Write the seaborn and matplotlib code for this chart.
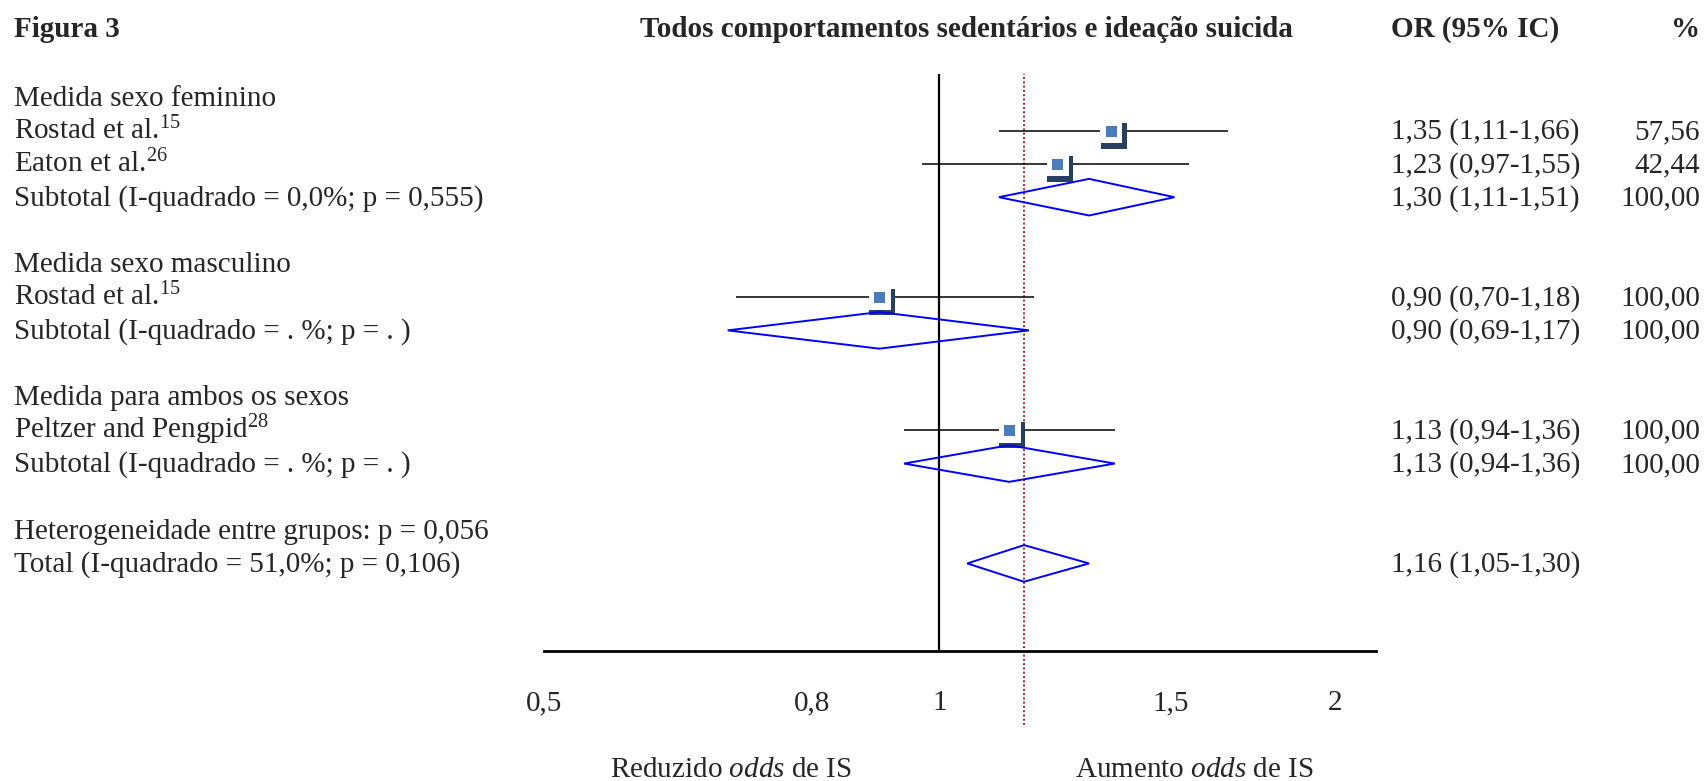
import matplotlib
matplotlib.use("Agg")
import matplotlib.pyplot as plt
import matplotlib.transforms as mtransforms
from matplotlib.patches import Polygon
from matplotlib.ticker import NullLocator, NullFormatter
import seaborn as sns

# table rows (left column), blank strings are spacer rows
labels = [
    "Medida sexo feminino",
    "Rostad et al.$^{15}$",
    "Eaton et al.$^{26}$",
    "Subtotal (I-quadrado = 0,0%; p = 0,555)",
    "",
    "Medida sexo masculino",
    "Rostad et al.$^{15}$",
    "Subtotal (I-quadrado = . %; p = . )",
    "",
    "Medida para ambos os sexos",
    "Peltzer and Pengpid$^{28}$",
    "Subtotal (I-quadrado = . %; p = . )",
    "",
    "Heterogeneidade entre grupos: p = 0,056",
    "Total (I-quadrado = 51,0%; p = 0,106)",
]
or_text = ["", "1,35 (1,11-1,66)", "1,23 (0,97-1,55)", "1,30 (1,11-1,51)", "",
           "", "0,90 (0,70-1,18)", "0,90 (0,69-1,17)", "",
           "", "1,13 (0,94-1,36)", "1,13 (0,94-1,36)", "",
           "", "1,16 (1,05-1,30)"]
weight_text = ["", "57,56", "42,44", "100,00", "",
               "", "100,00", "100,00", "",
               "", "100,00", "100,00", "",
               "", ""]

# individual studies
study_rows = [1, 2, 6, 10]
study_or = [1.35, 1.23, 0.90, 1.13]
study_lo = [1.11, 0.97, 0.70, 0.94]
study_hi = [1.66, 1.55, 1.18, 1.36]

# pooled estimates (diamonds)
pooled_rows = [3, 7, 11, 14]
pooled_or = [1.30, 0.90, 1.13, 1.16]
pooled_lo = [1.11, 0.69, 0.94, 1.05]
pooled_hi = [1.51, 1.17, 1.36, 1.30]

overall_or = 1.16
tick_values = [0.5, 0.8, 1, 1.5, 2]
tick_labels = ["0,5", "0,8", "1", "1,5", "2"]

sns.set_style("white")
plt.rcParams["font.family"] = ["Liberation Serif", "DejaVu Serif"]
plt.rcParams["mathtext.fontset"] = "custom"
plt.rcParams["mathtext.rm"] = "Liberation Serif"
plt.rcParams["mathtext.it"] = "Liberation Serif:italic"
plt.rcParams["mathtext.bf"] = "Liberation Serif:bold"

FS = 21
W, H = 1706, 781
fig = plt.figure(figsize=(W / 100, H / 100), dpi=100)
ax = fig.add_axes([544 / W, 1 - 651 / H, 832 / W, 577 / H])

# reference lines
ax.axvline(1, color="black", lw=1.6, zorder=1)
ax.axvline(overall_or, ymin=-0.128, ymax=1, color="#A52A2A", lw=1.4,
           ls=(0, (1, 1.2)), clip_on=False, zorder=1)

# confidence intervals
ax.hlines(study_rows, study_lo, study_hi, color="black", lw=1.1, zorder=2)

# boxes with the little shadow bracket
shadow = mtransforms.offset_copy(ax.transData, fig=fig, x=3, y=-5, units="dots")
gap = mtransforms.offset_copy(ax.transData, fig=fig, x=0.5, y=-1.5, units="dots")
ax.scatter(study_or, study_rows, marker="s", s=(26 * 0.72) ** 2, c="#28405F",
           linewidths=0, transform=shadow, zorder=3)
ax.scatter(study_or, study_rows, marker="s", s=(23 * 0.72) ** 2, c="white",
           linewidths=0, transform=gap, zorder=4)
sns.scatterplot(x=study_or, y=study_rows, marker="s", s=(11 * 0.72) ** 2,
                color="#4A7EBB", linewidth=0, ax=ax, zorder=5, legend=False)

# diamonds
h = 0.55
for r, est, lo, hi in zip(pooled_rows, pooled_or, pooled_lo, pooled_hi):
    ax.add_patch(Polygon([(lo, r), (est, r - h), (hi, r), (est, r + h)],
                         closed=True, fill=False, edgecolor="#0000FF", lw=1.4, zorder=3))

ax.set_xscale("log")
ax.set_xlim(0.5, 2.15)
ax.set_ylim(16.63, -0.7)
ax.set_xticks(tick_values)
ax.set_xticklabels(tick_labels)
ax.xaxis.set_minor_locator(NullLocator())
ax.xaxis.set_minor_formatter(NullFormatter())
ax.tick_params(axis="x", length=0, pad=28, labelsize=FS)
ax.set_yticks([])
ax.set_xlabel("")
ax.set_ylabel("")
for side in ["top", "left", "right"]:
    ax.spines[side].set_visible(False)
ax.spines["bottom"].set_linewidth(2)
ax.spines["bottom"].set_color("black")
ax.patch.set_alpha(0)

# text columns, baseline sits a little below the mark row
trans = mtransforms.blended_transform_factory(fig.transFigure, ax.transData)
for i, (lab, ort, wt) in enumerate(zip(labels, or_text, weight_text)):
    y = i + 0.255
    if lab:
        ax.text(14 / W, y, lab, transform=trans, ha="left", va="baseline", fontsize=FS)
    if ort:
        ax.text(1391 / W, y, ort, transform=trans, ha="left", va="baseline", fontsize=FS)
    if wt:
        ax.text(1700 / W, y, wt, transform=trans, ha="right", va="baseline", fontsize=FS)

top_y = 1 - 37 / H
fig.text(14 / W, top_y, "Figura 3", fontsize=FS, weight="bold", va="baseline")
fig.text(966 / W, top_y, "Todos comportamentos sedentários e ideação suicida",
         fontsize=FS, weight="bold", ha="center", va="baseline")
fig.text(1391 / W, top_y, "OR (95% IC)", fontsize=FS, weight="bold", ha="left", va="baseline")
fig.text(1700 / W, top_y, "%", fontsize=FS, weight="bold", ha="right", va="baseline")

bot_y = 1 - 777 / H
fig.text(731 / W, bot_y, "Reduzido $\\mathit{odds}$ de IS", fontsize=FS, ha="center", va="baseline")
fig.text(1194 / W, bot_y, "Aumento $\\mathit{odds}$ de IS", fontsize=FS, ha="center", va="baseline")

fig.savefig("out.png", dpi=100)
